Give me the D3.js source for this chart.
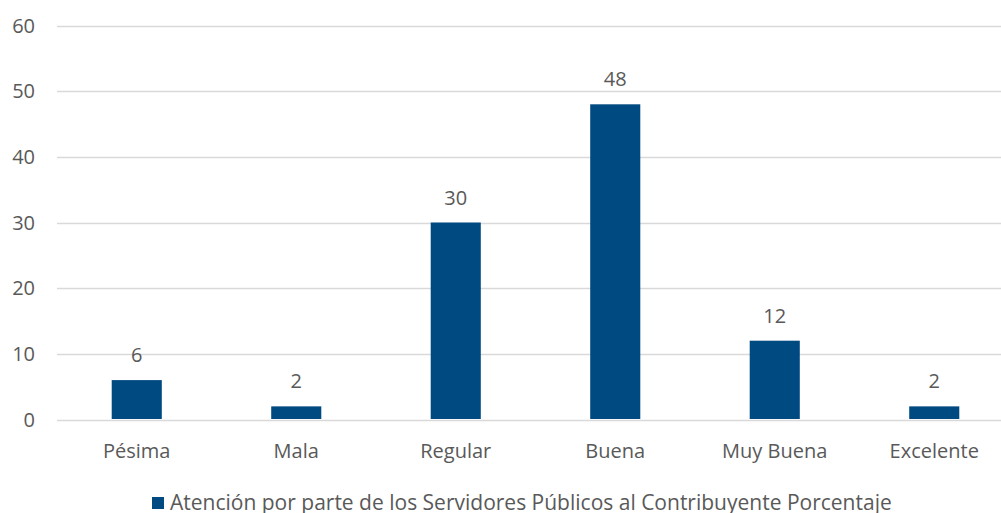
<!DOCTYPE html>
<html>
<head>
<meta charset="utf-8">
<script src="https://cdn.jsdelivr.net/npm/d3@7"></script>
<style>
  body { margin: 0; background: #fff; }
  text { font-family: "Open Sans", sans-serif; fill: #595959; }
</style>
</head>
<body>
<div id="chart"></div>
<script>
const categories = ["Pésima", "Mala", "Regular", "Buena", "Muy Buena", "Excelente"];
const values = [6, 2, 30, 48, 12, 2];
const yTicks = [0, 10, 20, 30, 40, 50, 60];
const seriesName = "Atención por parte de los Servidores Públicos al Contribuyente Porcentaje";

const width = 1001;
const height = 513;
const margin = { top: 26, right: -13, bottom: 94, left: 57 };

const svg = d3.select("#chart")
  .append("svg")
  .attr("width", width)
  .attr("height", height);

const x = d3.scaleBand()
  .domain(categories)
  .range([margin.left, width - margin.right])
  .paddingInner(0.686)
  .paddingOuter(0.343);

const y = d3.scaleLinear()
  .domain([0, 60])
  .range([height - margin.bottom + 0.5, margin.top - 0.5]);

// gridlines
svg.append("g")
  .selectAll("line")
  .data(yTicks)
  .join("line")
    .attr("x1", margin.left)
    .attr("x2", width)
    .attr("y1", d => Math.round(y(d)) + 0.5)
    .attr("y2", d => Math.round(y(d)) + 0.5)
    .attr("stroke", "#d9d9d9")
    .attr("stroke-width", 1.3);

// y labels
svg.append("g")
  .selectAll("text")
  .data(yTicks)
  .join("text")
    .attr("x", 35)
    .attr("y", d => y(d))
    .attr("dy", "0.36em")
    .attr("text-anchor", "end")
    .style("font-size", "20px")
    .text(d => d);

// bars
svg.append("g")
  .selectAll("rect")
  .data(values)
  .join("rect")
    .attr("x", (d, i) => x(categories[i]))
    .attr("y", d => y(d))
    .attr("width", x.bandwidth())
    .attr("height", d => y(0) - y(d) - 0.5)
    .attr("fill", "#004a82");

// value labels
svg.append("g")
  .selectAll("text")
  .data(values)
  .join("text")
    .attr("x", (d, i) => x(categories[i]) + x.bandwidth() / 2)
    .attr("y", d => y(d) - 18)
    .attr("text-anchor", "middle")
    .style("font-size", "20px")
    .text(d => d);

// category labels
svg.append("g")
  .selectAll("text")
  .data(categories)
  .join("text")
    .attr("x", d => x(d) + x.bandwidth() / 2)
    .attr("y", y(0) + 38)
    .attr("text-anchor", "middle")
    .style("font-size", "20px")
    .text(d => d);

// legend
const legend = svg.append("g").attr("transform", "translate(152,497)");
legend.append("rect")
  .attr("width", 12)
  .attr("height", 12)
  .attr("fill", "#004a82");
legend.append("text")
  .attr("x", 18)
  .attr("y", 13)
  .style("font-size", "21px")
  .text(seriesName);
</script>
</body>
</html>
